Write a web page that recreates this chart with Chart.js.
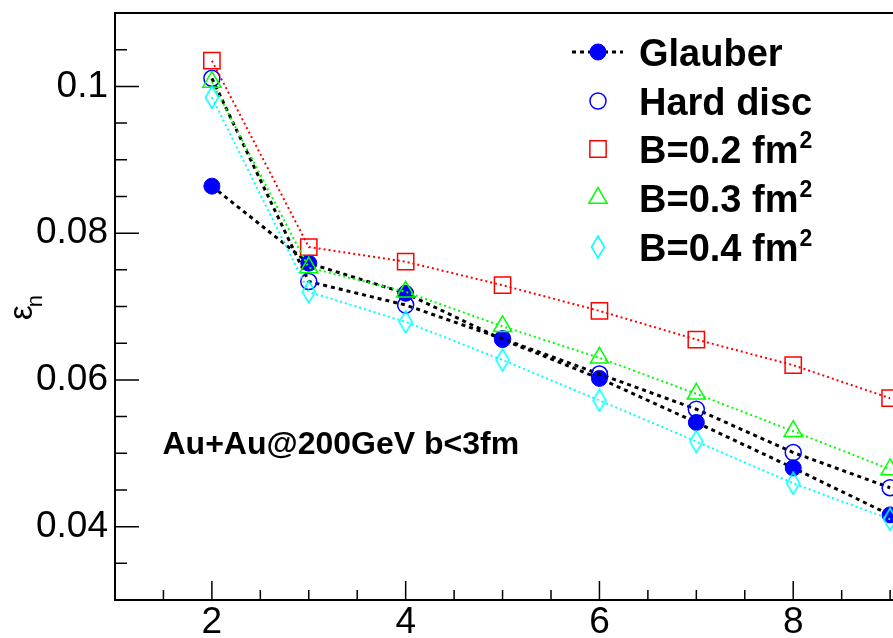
<!DOCTYPE html>
<html><head><meta charset="utf-8">
<script src="https://cdn.jsdelivr.net/npm/chart.js@4/dist/chart.umd.min.js"></script>
<style>
html,body{margin:0;padding:0;overflow:hidden;background:#fff;width:893px;height:638px}
#wrap{position:relative;width:1000px;height:638px}
</style></head>
<body><div id="wrap"><canvas id="c" width="1000" height="638"></canvas></div>
<script>
// ---- data ----
const nValues  = [2, 3, 4, 5, 6, 7, 8, 9];
const glauber  = [0.0864, 0.0759, 0.0718, 0.0655, 0.0602, 0.0542, 0.0480, 0.0416];
const hardDisc = [0.1011, 0.0734, 0.0702, 0.0656, 0.0608, 0.0560, 0.0501, 0.0453];
const b02      = [0.1035, 0.0781, 0.0761, 0.0729, 0.0694, 0.0655, 0.0620, 0.0575];
const b03      = [0.1006, 0.0753, 0.0720, 0.0673, 0.0630, 0.0581, 0.0530, 0.0478];
const b04      = [0.0985, 0.0720, 0.0679, 0.0627, 0.0572, 0.0516, 0.0459, 0.0410];
const seriesNames = ['Glauber', 'Hard disc', 'B=0.2 fm', 'B=0.3 fm', 'B=0.4 fm'];
const xMajorTicks = [2, 4, 6, 8, 10];
const yMajorTicks = [0.04, 0.06, 0.08, 0.1];
const yTitle = 'ε';
const ySub = 'n';
const annotation = 'Au+Au@200GeV b<3fm';

function pts(arr){ return nValues.map((x,i)=>({x:x, y:arr[i]})); }
function isMajor(v, list){ return list.some(m => Math.abs(m - v) < 1e-9); }

function diamond(color){
  const c = document.createElement('canvas'); c.width = 16; c.height = 24;
  const g = c.getContext('2d'); g.strokeStyle = color; g.lineWidth = 1.5;
  g.beginPath(); g.moveTo(8,1); g.lineTo(14.5,12); g.lineTo(8,23); g.lineTo(1.5,12); g.closePath(); g.stroke();
  return c;
}

const datasets = [
  {label: seriesNames[0], data: pts(glauber), borderColor:'#000', borderWidth:3, borderDash:[4,4],
   pointStyle:'circle', pointRadius:8, pointBackgroundColor:'#0000ff', pointBorderColor:'#0000ff', pointBorderWidth:1, order:5, legendLine:true},
  {label: seriesNames[1], data: pts(hardDisc), borderColor:'#000', borderWidth:3, borderDash:[4,4],
   pointStyle:'circle', pointRadius:8, pointBackgroundColor:'rgba(0,0,0,0)', pointBorderColor:'#0000ff', pointBorderWidth:1.5, order:4},
  {label: seriesNames[2], data: pts(b02), borderColor:'#ff0000', borderWidth:2, borderDash:[2,3],
   pointStyle:'rect', pointRadius:11.5, pointBackgroundColor:'rgba(0,0,0,0)', pointBorderColor:'#ff0000', pointBorderWidth:1.5, order:3},
  {label: seriesNames[3], data: pts(b03), borderColor:'#00ff00', borderWidth:2, borderDash:[2,3],
   pointStyle:'triangle', pointRadius:10.5, pointBackgroundColor:'rgba(0,0,0,0)', pointBorderColor:'#00ff00', pointBorderWidth:1.5, order:2},
  {label: seriesNames[4], data: pts(b04), borderColor:'#00ffff', borderWidth:2, borderDash:[2,3],
   pointStyle: diamond('#00ffff'), pointRadius:11, pointBackgroundColor:'rgba(0,0,0,0)', pointBorderColor:'#00ffff', pointBorderWidth:1.5, order:1}
];
datasets.forEach(d => { d.fill = false; d.tension = 0; d.pointHoverRadius = d.pointRadius; });

function drawMarker(ctx, ds, x, y){
  const st = ds.pointStyle, r = ds.pointRadius;
  ctx.save();
  if (typeof st !== 'string') { ctx.drawImage(st, x - st.width/2, y - st.height/2); ctx.restore(); return; }
  ctx.lineWidth = ds.pointBorderWidth; ctx.strokeStyle = ds.pointBorderColor; ctx.fillStyle = ds.pointBackgroundColor;
  ctx.setLineDash([]);
  ctx.beginPath();
  if (st === 'circle') ctx.arc(x, y, r, 0, Math.PI*2);
  else if (st === 'rect') { const s = r*Math.SQRT1_2; ctx.rect(x-s, y-s, 2*s, 2*s); }
  else if (st === 'triangle') {
    ctx.moveTo(x, y - r); ctx.lineTo(x + r*Math.cos(Math.PI/6), y + r/2); ctx.lineTo(x - r*Math.cos(Math.PI/6), y + r/2); ctx.closePath();
  }
  ctx.fill(); ctx.stroke(); ctx.restore();
}

const framePlugin = {
  id: 'rootFrame',
  beforeDatasetsDraw(chart){
    const {ctx, chartArea: a, scales} = chart;
    ctx.save();
    ctx.strokeStyle = '#000'; ctx.lineWidth = 2; ctx.setLineDash([]);
    ctx.strokeRect(a.left, a.top, a.right - a.left, a.bottom - a.top);
    ctx.lineWidth = 1.5;
    ctx.beginPath();
    scales.x.ticks.forEach(t => {
      const px = scales.x.getPixelForValue(t.value);
      const len = isMajor(t.value, xMajorTicks) ? 19 : 10;
      ctx.moveTo(px, a.bottom); ctx.lineTo(px, a.bottom - len);
    });
    scales.y.ticks.forEach(t => {
      const py = scales.y.getPixelForValue(t.value);
      const len = isMajor(t.value, yMajorTicks) ? 24 : 12;
      ctx.moveTo(a.left, py); ctx.lineTo(a.left + len, py);
    });
    ctx.stroke();
    ctx.restore();
  },
  afterDraw(chart){
    const {ctx, chartArea: a, scales} = chart;
    ctx.save();
    // y title
    ctx.fillStyle = '#000';
    ctx.translate(32, 320); ctx.rotate(-Math.PI/2);
    ctx.font = '33px "Liberation Sans"'; ctx.textBaseline = 'alphabetic'; ctx.textAlign = 'left';
    ctx.fillText(yTitle, 0, 0);
    const w = ctx.measureText(yTitle).width;
    ctx.font = '22px "Liberation Sans"';
    ctx.fillText(ySub, w - 2, 10);
    ctx.restore();

    // annotation
    ctx.save();
    ctx.fillStyle = '#000'; ctx.font = 'bold 32px "Liberation Sans"';
    ctx.textBaseline = 'alphabetic'; ctx.textAlign = 'left';
    ctx.fillText(annotation, scales.x.getPixelForValue(1.49), scales.y.getPixelForValue(0.0499));
    ctx.restore();

    // legend
    ctx.save();
    const rows = [52, 101, 149, 198, 247];
    const mx = 598, tx = 639;
    datasets.forEach((ds, i) => {
      const y = rows[i];
      if (ds.legendLine) {
        ctx.save(); ctx.strokeStyle = ds.borderColor; ctx.lineWidth = ds.borderWidth; ctx.setLineDash(ds.borderDash);
        ctx.beginPath(); ctx.moveTo(572, y); ctx.lineTo(623, y); ctx.stroke(); ctx.restore();
      }
      drawMarker(ctx, ds, mx, y);
      ctx.fillStyle = '#000'; ctx.font = 'bold 38px "Liberation Sans"';
      ctx.textBaseline = 'alphabetic'; ctx.textAlign = 'left';
      ctx.fillText(ds.label, tx, y + 14);
      if (i >= 2) {
        const w = ctx.measureText(ds.label).width;
        ctx.font = 'bold 23px "Liberation Sans"';
        ctx.fillText('2', tx + w + 1, y - 1);
      }
    });
    ctx.restore();
  }
};

function noPad(s){ s.paddingLeft = 0; s.paddingRight = 0; s.paddingTop = 0; s.paddingBottom = 0; }

new Chart(document.getElementById('c'), {
  type: 'line',
  data: { datasets },
  options: {
    responsive: false, animation: false, devicePixelRatio: 1,
    layout: { padding: { left: 0, right: 9, top: 13, bottom: 0 } },
    plugins: { legend: { display: false }, tooltip: { enabled: false } },
    elements: { line: { borderCapStyle: 'butt' } },
    scales: {
      x: {
        type: 'linear', min: 1, max: 10,
        grid: { display: false, drawTicks: false }, border: { display: false },
        ticks: { stepSize: 0.5, autoSkip: false, maxRotation: 0, padding: 1, color: '#000',
          font: { family: '"Liberation Sans"', size: 37 },
          callback: v => isMajor(v, xMajorTicks) ? String(xMajorTicks.find(m => Math.abs(m - v) < 1e-9)) : '' },
        afterFit(s){ s.height = 38; noPad(s); }
      },
      y: {
        type: 'linear', min: 0.03, max: 0.11,
        grid: { display: false, drawTicks: false }, border: { display: false },
        ticks: { stepSize: 0.005, autoSkip: false, padding: 7, color: '#000',
          font: { family: '"Liberation Sans"', size: 37 },
          callback: v => isMajor(v, yMajorTicks) ? String(yMajorTicks.find(m => Math.abs(m - v) < 1e-9)) : '' },
        afterFit(s){ s.width = 115; noPad(s); }
      }
    }
  },
  plugins: [framePlugin]
});
</script>
</body></html>
